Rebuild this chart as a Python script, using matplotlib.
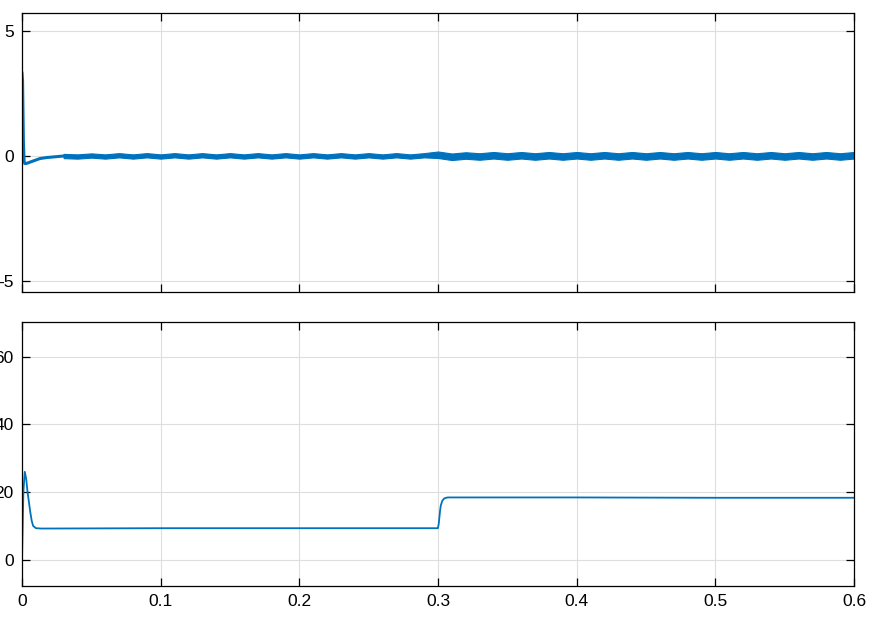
import matplotlib
matplotlib.use('Agg')
import matplotlib.pyplot as plt
import numpy as np

plt.rcParams['font.family'] = ['Liberation Sans', 'DejaVu Sans']

# top signal: start-up transient
t_top_start = [0.0, 0.0004, 0.001, 0.0015, 0.002, 0.003, 0.005, 0.008, 0.013, 0.018, 0.024, 0.03]
v_top_start = [3.3, 3.0, 0.6, -0.2, -0.3, -0.3, -0.26, -0.2, -0.1, -0.06, -0.03, 0.0]

# top signal: ripple afterwards, one value every 0.01 s from 0.03 to 0.6
t_top_ripple = [round(0.03 + 0.01 * i, 2) for i in range(58)]
v_top_ripple = [0.0, -0.02, 0.02, -0.02, 0.03, -0.02, 0.03, -0.02, 0.03, -0.02,
                0.03, -0.02, 0.03, -0.02, 0.03, -0.02, 0.03, -0.02, 0.03, -0.02,
                0.03, -0.02, 0.03, -0.02, 0.03, -0.02, 0.03, 0.05, -0.03, 0.02,
                -0.02, 0.03, -0.02, 0.03, -0.02, 0.03, -0.02, 0.03, -0.02, 0.03,
                -0.02, 0.03, -0.02, 0.03, -0.02, 0.03, -0.02, 0.03, -0.02, 0.03,
                -0.02, 0.03, -0.02, 0.03, -0.02, 0.03, -0.02, 0.03]
# half thickness of the noisy band
band_before = 0.085
band_after = 0.13

# bottom signal
t_bot = [0.0, 0.001, 0.002, 0.003, 0.004, 0.005, 0.006, 0.007, 0.008, 0.010, 0.014,
         0.1, 0.2, 0.2999, 0.3005, 0.301, 0.3015, 0.302, 0.303, 0.304, 0.305, 0.307,
         0.4, 0.5, 0.6]
v_bot = [0.0, 20.0, 26.0, 24.0, 20.0, 17.0, 14.0, 11.5, 10.0, 9.3, 9.2,
         9.3, 9.3, 9.3, 10.5, 12.5, 14.5, 16.0, 17.3, 17.9, 18.2, 18.4,
         18.4, 18.3, 18.3]

x_ticks = [0, 0.1, 0.2, 0.3, 0.4, 0.5, 0.6]
x_labels = ['0', '0.1', '0.2', '0.3', '0.4', '0.5', '0.6']
top_yticks = [-5, 0, 5]
bot_yticks = [0, 20, 40, 60]

line_color = '#0072BD'

fig = plt.figure(figsize=(8.75, 6.19), dpi=100)
ax1 = fig.add_axes([22 / 875, 1 - 292 / 619, 832 / 875, 279 / 619])
ax2 = fig.add_axes([22 / 875, 1 - 586 / 619, 832 / 875, 264 / 619])

# top plot
ax1.plot(t_top_start, v_top_start, color=line_color, lw=2.2, solid_joinstyle='round')
t_r = np.array(t_top_ripple)
v_r = np.array(v_top_ripple)
half = np.where(t_r < 0.3, band_before, band_after)
ax1.fill_between(t_r, v_r - half, v_r + half, color=line_color, lw=0.8, edgecolor=line_color)
ax1.set_xlim(0, 0.6)
ax1.set_ylim(-5.42, 5.7)
ax1.set_yticks(top_yticks)
ax1.set_yticklabels(['-5', '0', '5'])
ax1.set_xticks(x_ticks)
ax1.set_xticklabels([])

# bottom plot
ax2.plot(t_bot, v_bot, color=line_color, lw=1.3)
ax2.set_xlim(0, 0.6)
ax2.set_ylim(-7.8, 70.3)
ax2.set_yticks(bot_yticks)
ax2.set_xticks(x_ticks)
ax2.set_xticklabels(x_labels)

for ax in (ax1, ax2):
    ax.grid(True, color='#dedede', lw=0.8)
    ax.set_axisbelow(True)
    ax.tick_params(direction='in', length=6, width=0.9, top=True, right=True,
                   labelsize=12.5, pad=6)
    for s in ax.spines.values():
        s.set_linewidth(0.9)

fig.savefig('out.png', dpi=100)
